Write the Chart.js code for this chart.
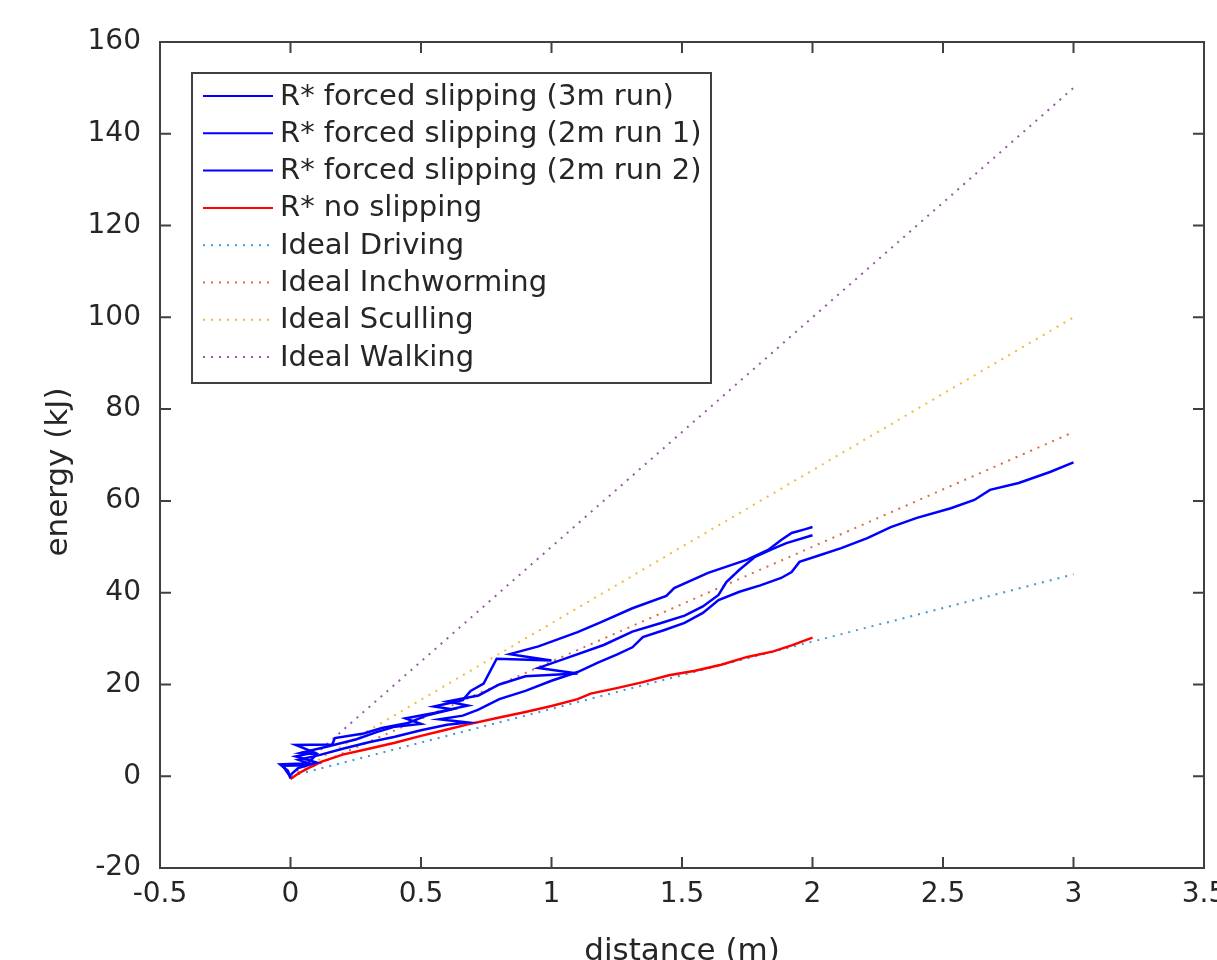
<!DOCTYPE html>
<html>
<head>
<meta charset="utf-8">
<script src="https://cdn.jsdelivr.net/npm/chart.js@4.4.1/dist/chart.umd.min.js"></script>
<style>
  html, body { margin: 0; padding: 0; background: #fff; }
  #wrap { width: 1217px; height: 960px; }
</style>
</head>
<body>
<div id="wrap"><canvas id="energyChart" width="1217" height="960"></canvas></div>
<script>
// axis ticks
const xTicks = [-0.5, 0, 0.5, 1, 1.5, 2, 2.5, 3, 3.5];
const yTicks = [-20, 0, 20, 40, 60, 80, 100, 120, 140, 160];

// R* forced slipping (3m run)
const run3mX = [0, -0.01, -0.04, 0.07, 0.03, 0.11, 0.2, 0.3, 0.4, 0.5, 0.6, 0.68, 0.57, 0.66, 0.72, 0.8, 0.9, 1.0, 1.1, 1.18, 1.25, 1.31, 1.35, 1.43, 1.51, 1.58, 1.64, 1.72, 1.8, 1.88, 1.92, 1.95, 2.03, 2.11, 2.21, 2.3, 2.4, 2.53, 2.62, 2.68, 2.79, 2.91, 3.0];
const run3mY = [-0.5, 1.2, 2.6, 2.8, 3.6, 4.6, 6.0, 7.4, 8.6, 10.0, 11.2, 11.7, 12.4, 13.2, 14.5, 16.8, 18.6, 20.8, 22.7, 24.8, 26.5, 28.1, 30.3, 31.8, 33.4, 35.6, 38.4, 40.2, 41.6, 43.2, 44.5, 46.7, 48.2, 49.7, 51.9, 54.3, 56.3, 58.4, 60.2, 62.4, 63.9, 66.3, 68.4];

// R* forced slipping (2m run 1)
const run1X = [0, 0.03, 0.1, 0.02, 0.09, 0.02, 0.16, 0.17, 0.28, 0.35, 0.45, 0.52, 0.62, 0.55, 0.66, 0.69, 0.74, 0.79, 1.0, 0.84, 0.95, 1.1, 1.19, 1.31, 1.44, 1.47, 1.6, 1.75, 1.83, 1.88, 1.92, 1.97, 2.0];
const run1Y = [0.3, 1.8, 3.0, 4.3, 5.2, 6.8, 6.9, 8.3, 9.3, 10.5, 11.6, 13.2, 14.6, 15.2, 16.6, 18.6, 20.2, 25.6, 25.2, 26.6, 28.3, 31.4, 33.6, 36.6, 39.3, 41.0, 44.3, 47.2, 49.3, 51.5, 53.0, 53.8, 54.3];

// R* forced slipping (2m run 2)
const run2X = [0, -0.03, 0.06, 0.1, 0.04, 0.13, 0.25, 0.33, 0.4, 0.5, 0.44, 0.55, 0.68, 0.6, 0.72, 0.8, 0.9, 1.1, 0.95, 1.06, 1.2, 1.31, 1.42, 1.51, 1.58, 1.64, 1.67, 1.72, 1.78, 1.85, 1.9, 2.0];
const run2Y = [-0.2, 2.3, 2.4, 4.8, 5.1, 6.3, 8.0, 9.6, 10.8, 11.4, 12.6, 13.8, 15.4, 16.3, 17.6, 20.0, 21.8, 22.4, 23.6, 25.8, 28.6, 31.5, 33.4, 35.0, 37.0, 39.5, 42.3, 45.0, 47.8, 49.6, 50.8, 52.5];

// R* no slipping
const noSlipX = [0, 0.03, 0.07, 0.12, 0.2, 0.3, 0.4, 0.5, 0.6, 0.68, 0.8, 0.9, 1.0, 1.1, 1.15, 1.25, 1.35, 1.45, 1.55, 1.65, 1.75, 1.85, 1.92, 2.0];
const noSlipY = [-0.6, 0.6, 1.8, 3.2, 4.7, 6.0, 7.3, 8.8, 10.2, 11.3, 12.8, 14.0, 15.3, 16.8, 18.0, 19.2, 20.5, 22.0, 23.0, 24.3, 26.0, 27.2, 28.5, 30.2];

// ideal gaits
const idealX = [0, 3];
const drivingY = [0, 44];
const inchwormingY = [0, 75];
const scullingY = [0, 100];
const walkingY = [0, 150];

const toPts = (xs, ys) => xs.map((x, i) => ({ x: x, y: ys[i] }));
const FONT = "'DejaVu Sans', 'Liberation Sans', sans-serif";
const INK = '#262626';
const FRAME = '#404040';

function lineSet(label, xs, ys, color, dotted) {
    return {
        label: label,
        data: toPts(xs, ys),
        borderColor: color,
        backgroundColor: color,
        borderWidth: dotted ? 2 : 2.5,
        borderDash: dotted ? [2, 6] : [],
        pointRadius: 0,
        showLine: true,
        fill: false,
        tension: 0
    };
}

const datasets = [
    lineSet('R* forced slipping (3m run)', run3mX, run3mY, '#0000FF', false),
    lineSet('R* forced slipping (2m run 1)', run1X, run1Y, '#0000FF', false),
    lineSet('R* forced slipping (2m run 2)', run2X, run2Y, '#0000FF', false),
    lineSet('R* no slipping', noSlipX, noSlipY, '#FF0000', false),
    lineSet('Ideal Driving', idealX, drivingY, '#3C9AD6', true),
    lineSet('Ideal Inchworming', idealX, inchwormingY, '#E0693C', true),
    lineSet('Ideal Sculling', idealX, scullingY, '#F0BA3C', true),
    lineSet('Ideal Walking', idealX, walkingY, '#9A55A8', true)
];

// box + inward ticks, MATLAB style, plus the y label
const framePlugin = {
    id: 'frame',
    afterDatasetsDraw(chart) {
        const { ctx, chartArea: a, scales: { x, y } } = chart;
        ctx.save();
        ctx.strokeStyle = FRAME;
        ctx.lineWidth = 2;
        ctx.strokeRect(a.left, a.top, a.right - a.left, a.bottom - a.top);
        ctx.beginPath();
        xTicks.forEach(v => {
            const px = x.getPixelForValue(v);
            ctx.moveTo(px, a.bottom); ctx.lineTo(px, a.bottom - 11);
            ctx.moveTo(px, a.top); ctx.lineTo(px, a.top + 11);
        });
        yTicks.forEach(v => {
            const py = y.getPixelForValue(v);
            ctx.moveTo(a.left, py); ctx.lineTo(a.left + 11, py);
            ctx.moveTo(a.right, py); ctx.lineTo(a.right - 11, py);
        });
        ctx.stroke();

        ctx.translate(59, 472);
        ctx.rotate(-Math.PI / 2);
        ctx.fillStyle = INK;
        ctx.font = '31px ' + FONT;
        ctx.textAlign = 'center';
        ctx.textBaseline = 'middle';
        ctx.fillText('energy (kJ)', 0, 0);
        ctx.restore();
    }
};

// boxed legend in the top-left corner of the axes
const legendPlugin = {
    id: 'boxLegend',
    afterDraw(chart) {
        const { ctx, chartArea: a } = chart;
        const left = a.left + 32, top = a.top + 31, w = 519, h = 310;
        ctx.save();
        ctx.fillStyle = '#fff';
        ctx.fillRect(left, top, w, h);
        ctx.strokeStyle = FRAME;
        ctx.lineWidth = 2;
        ctx.strokeRect(left, top, w, h);
        ctx.font = '29px ' + FONT;
        ctx.textBaseline = 'middle';
        ctx.textAlign = 'left';
        chart.data.datasets.forEach((ds, i) => {
            const cy = top + 24 + i * 37.3;
            ctx.beginPath();
            ctx.strokeStyle = ds.borderColor;
            ctx.lineWidth = 2;
            ctx.setLineDash(ds.borderDash);
            ctx.moveTo(left + 11, cy - 1);
            ctx.lineTo(left + 81, cy - 1);
            ctx.stroke();
            ctx.setLineDash([]);
            ctx.fillStyle = INK;
            ctx.fillText(ds.label, left + 88, cy);
        });
        ctx.restore();
    }
};

new Chart(document.getElementById('energyChart').getContext('2d'), {
    type: 'scatter',
    data: { datasets: datasets },
    options: {
        responsive: false,
        animation: false,
        layout: { padding: { top: 42, right: 13, left: 0, bottom: 0 } },
        plugins: {
            legend: { display: false },
            tooltip: { enabled: false }
        },
        scales: {
            x: {
                type: 'linear',
                min: -0.5,
                max: 3.5,
                afterBuildTicks: s => { s.ticks = xTicks.map(v => ({ value: v })); },
                afterFit: s => { s.height = 92; s.paddingLeft = 0; s.paddingRight = 0; },
                grid: { display: false, drawTicks: false },
                border: { display: false },
                ticks: {
                    padding: 10,
                    color: INK,
                    font: { family: FONT, size: 28 },
                    maxRotation: 0,
                    autoSkip: false,
                    callback: v => String(v)
                },
                title: {
                    display: true,
                    text: 'distance (m)',
                    color: INK,
                    font: { family: FONT, size: 31, lineHeight: 0.5 },
                    padding: { top: 0, bottom: 0 }
                }
            },
            y: {
                type: 'linear',
                min: -20,
                max: 160,
                afterBuildTicks: s => { s.ticks = yTicks.map(v => ({ value: v })); },
                afterFit: s => { s.width = 160; s.paddingTop = 0; s.paddingBottom = 0; },
                grid: { display: false, drawTicks: false },
                border: { display: false },
                ticks: {
                    padding: 19,
                    color: INK,
                    font: { family: FONT, size: 28 },
                    autoSkip: false,
                    callback: v => String(v)
                },
                title: { display: false }
            }
        }
    },
    plugins: [framePlugin, legendPlugin]
});
</script>
</body>
</html>
